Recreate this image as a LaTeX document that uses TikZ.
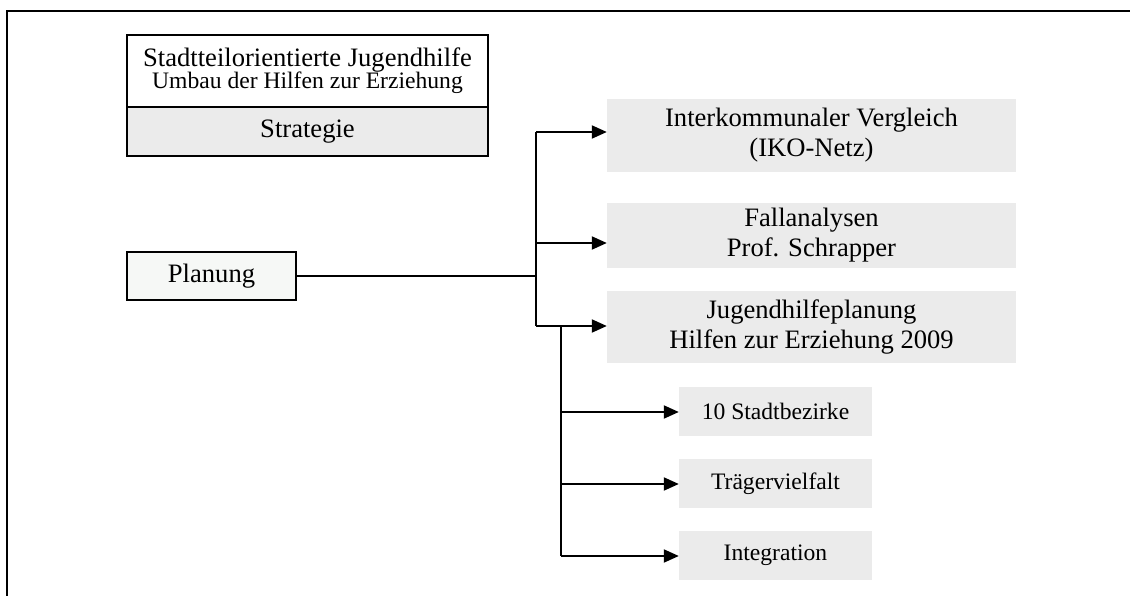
\documentclass[tikz,border=0pt]{standalone}
\usepackage{fontspec}
\setmainfont{Liberation Serif}
\usetikzlibrary{arrows.meta}
\definecolor{boxgray}{HTML}{EBEBEB}
\definecolor{planfill}{HTML}{F6F8F6}
\newcommand{\bigtxt}{\fontsize{26.6}{30}\selectfont}
\newcommand{\smalltxt}{\fontsize{23.6}{28}\selectfont}
\tikzset{
  edge/.style={line width=2pt, draw=black},
  framebox/.style={line width=2pt, draw=black},
  headbox/.style={rectangle, draw=black, line width=2pt, inner sep=0pt, align=center, minimum width=361pt},
  planbox/.style={rectangle, draw=black, line width=2pt, fill=planfill, inner sep=0pt, minimum width=169pt, minimum height=48pt, font=\bigtxt},
  bigbox/.style={rectangle, fill=boxgray, inner sep=0pt, align=center, minimum width=409pt, font=\bigtxt},
  smallbox/.style={rectangle, fill=boxgray, inner sep=0pt, minimum width=193pt, minimum height=49pt, font=\smalltxt},
  arr/.style={edge, -{Triangle[length=15pt, width=13pt]}}
}
\begin{document}
\begin{tikzpicture}[x=1pt, y=-1pt]
  \clip (0,0) rectangle (1130,596);
  \fill[white] (0,0) rectangle (1130,596);
  % outer frame, open towards the right and the bottom
  \draw[framebox] (7,620) -- (7,11) -- (1150,11);

  % heading block
  \node[headbox, minimum height=72pt] (head) at (307.5,71)
    {\bigtxt Stadtteilorientierte Jugendhilfe\\[-1pt]\smalltxt Umbau der Hilfen zur Erziehung};
  \node[headbox, fill=boxgray, minimum height=49pt, font=\bigtxt] (strat) at (307.5,131.5) {Strategie};

  % planning node
  \node[planbox] (plan) at (211.5,276) {Planung};

  % main target boxes
  \node[bigbox, minimum height=73pt] (iko) at (811.5,135.5) {Interkommunaler Vergleich\\(IKO-Netz)};
  \node[bigbox, minimum height=65pt] (fall) at (811.5,235.5) {Fallanalysen\\Prof. Schrapper};
  \node[bigbox, minimum height=72pt] (jhp) at (811.5,327) {Jugendhilfeplanung\\Hilfen zur Erziehung 2009};

  % sub target boxes
  \node[smallbox] (bez) at (775.5,411.5) {10 Stadtbezirke};
  \node[smallbox] (trae) at (775.5,483.5) {Trägervielfalt};
  \node[smallbox] (integ) at (775.5,555.5) {Integration};

  % branching points
  \coordinate (j0) at (536,276);
  \coordinate (j1) at (536,132);
  \coordinate (j2) at (536,243);
  \coordinate (j3) at (536,326);
  \coordinate (k0) at (561,326);
  \coordinate (k1) at (561,412);
  \coordinate (k2) at (561,484);
  \coordinate (k3) at (561,556);

  % connectors
  \draw[edge] (plan.east |- j0) -- (j0);
  \draw[edge] (j1) -- (j3);
  \draw[arr] (j1) -- (j1 -| iko.west);
  \draw[arr] (j2) -- (j2 -| fall.west);
  \draw[arr] (j3) -- (j3 -| jhp.west);
  \draw[edge] (k0) -- (k3);
  \draw[arr] (k1) -- (k1 -| bez.west);
  \draw[arr] (k2) -- (k2 -| trae.west);
  \draw[arr] (k3) -- (k3 -| integ.west);
\end{tikzpicture}
\end{document}
